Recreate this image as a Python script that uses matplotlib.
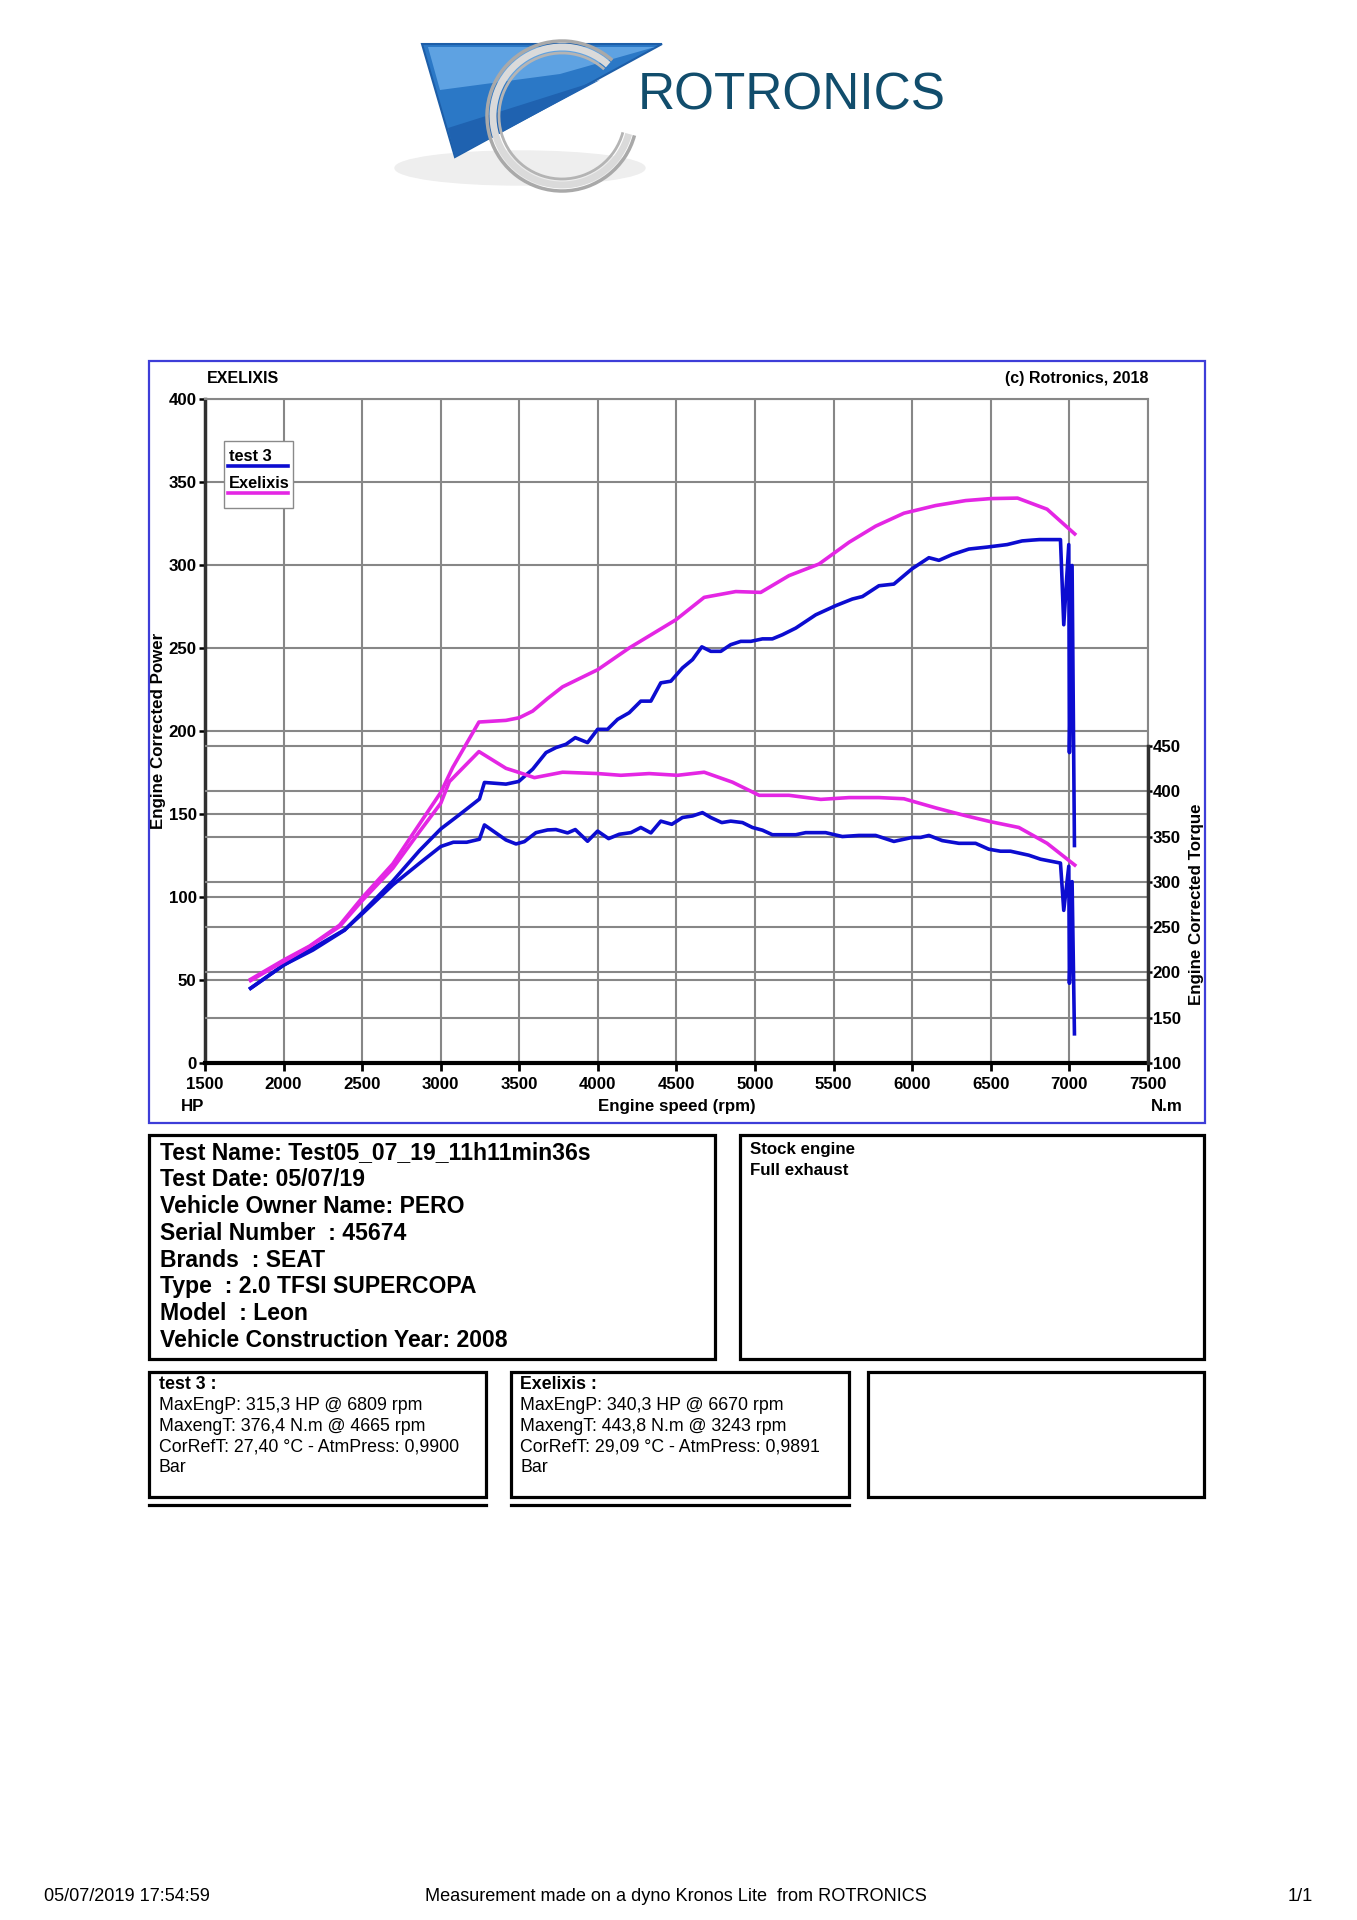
import matplotlib
matplotlib.use("Agg")
import matplotlib.pyplot as plt
from matplotlib.patches import Rectangle, Polygon, Arc, Ellipse

plt.rcParams['font.family'] = ['Liberation Sans', 'DejaVu Sans']
plt.rcParams['font.weight'] = 'bold'

# axis ticks
rpm_ticks = list(range(1500, 8000, 500))
hp_ticks = list(range(0, 401, 50))
nm_ticks = list(range(100, 451, 50))

# test 3 (blue) - power in HP, torque in N.m
t3_rpm_hp = [1790, 2000, 2186, 2388, 2504, 2695, 2865, 3000, 3119, 3246,
             3278, 3415, 3496, 3585, 3670, 3733, 3797, 3856, 3934, 3998,
             4061, 4125, 4199, 4273, 4337, 4400, 4464, 4538, 4602, 4661,
             4718, 4782, 4845, 4909, 4973, 5047, 5110, 5174, 5259, 5386,
             5513, 5619, 5683, 5788, 5883, 6000, 6106, 6170, 6254, 6360,
             6477, 6604, 6699, 6763, 6809, 6943, 6964, 6996, 7000, 7017, 7032]
t3_hp = [45, 59, 68, 80, 91, 109.6, 128, 141, 149.6, 159,
         169, 168, 169.6, 177, 187, 190, 192, 196, 193, 201,
         201, 207, 211, 218, 218, 229, 230, 238, 243, 250.7,
         248, 248, 252, 254, 254, 255.5, 255.5, 258, 262, 270,
         275.5, 279.5, 281, 287.5, 288.5, 297.8, 304.4, 302.8, 306.3, 309.6,
         310.8, 312.3, 314.5, 315.0, 315.3, 315.3, 264, 312.3, 187, 299.7, 131]

t3_rpm_nm = [1790, 2000, 2186, 2388, 2504, 2695, 2865, 3000, 3080, 3165, 3246,
             3278, 3415, 3479, 3532, 3606, 3680, 3733, 3807, 3856,
             3934, 3998, 4068, 4136, 4210, 4273, 4337, 4400, 4470, 4538,
             4602, 4665, 4718, 4788, 4845, 4920, 4983, 5047, 5110, 5259,
             5322, 5449, 5555, 5661, 5767, 5883, 6000, 6053, 6106, 6191,
             6297, 6403, 6487, 6561, 6625, 6741, 6816, 6943, 6964, 6996,
             7000, 7017, 7032]
t3_nm = [182.5, 208, 226.7, 247, 265.3, 296.6, 320.5, 339, 343.7, 343.7, 347,
         362.8, 346.2, 341.8, 344.4, 354.3, 357.3, 357.7, 354, 357.7,
         344.8, 356, 347.7, 352.5, 354.3, 360, 354, 367, 363.5, 371,
         372.7, 376.4, 371, 365.4, 367, 365.4, 360, 357, 352, 352,
         354.3, 354.3, 350, 351.2, 351.2, 344.6, 349, 349, 351.2, 345.5,
         342.5, 342.5, 336, 333.8, 333.8, 329.4, 325, 320.7, 268.5, 317.2,
         188, 300.2, 132.2]

# Exelixis (magenta)
ex_rpm_hp = [1790, 2000, 2165, 2356, 2504, 2695, 2865, 3000, 3076, 3243,
             3415, 3500, 3585, 3680, 3775, 4000, 4199, 4496, 4676, 4877,
             5036, 5216, 5407, 5598, 5767, 5947, 6148, 6339, 6498, 6670,
             6858, 7034]
ex_hp = [50.4, 62, 70.4, 83, 100, 120, 144, 163, 178, 205.4,
         206.4, 208, 212, 219.6, 226.6, 237, 250, 267, 280.5, 284,
         283.5, 293.6, 300.6, 313.7, 323.4, 331.2, 335.8, 338.8, 340, 340.3,
         333.6, 318.7]

ex_rpm_nm = [1790, 2000, 2165, 2356, 2504, 2695, 2865, 3000, 3055, 3243,
             3415, 3500, 3596, 3775, 4000, 4146, 4326, 4506, 4676, 4856,
             5026, 5216, 5418, 5598, 5788, 5947, 6148, 6339, 6498, 6678,
             6858, 7034]
ex_nm = [191, 212, 228.5, 250.6, 280, 315, 355.4, 386.7, 410.6, 443.8,
         425.3, 420.6, 415, 421, 419.5, 417.6, 419.5, 417.6, 421, 410,
         395.5, 395.5, 391, 393, 393, 391.7, 381.7, 373, 366.4, 360,
         342.5, 318.5]

info_lines = ["Test Name: Test05_07_19_11h11min36s", "Test Date: 05/07/19",
              "Vehicle Owner Name: PERO", "Serial Number  : 45674",
              "Brands  : SEAT", "Type  : 2.0 TFSI SUPERCOPA", "Model  : Leon",
              "Vehicle Construction Year: 2008"]
notes_lines = ["Stock engine", "Full exhaust"]
t3_lines = ["MaxEngP: 315,3 HP @ 6809 rpm", "MaxengT: 376,4 N.m @ 4665 rpm",
            "CorRefT: 27,40 \u00b0C - AtmPress: 0,9900", "Bar"]
ex_lines = ["MaxEngP: 340,3 HP @ 6670 rpm", "MaxengT: 443,8 N.m @ 3243 rpm",
            "CorRefT: 29,09 \u00b0C - AtmPress: 0,9891", "Bar"]

BLUE = '#0c0cd0'
MAG = '#e426e4'
GRID = '#878787'

W, H = 1357, 1920
fig = plt.figure(figsize=(W / 100, H / 100), dpi=100)


def frac(x0, y0, x1, y1):
    return [x0 / W, 1 - y1 / H, (x1 - x0) / W, (y1 - y0) / H]


# main chart
ax = fig.add_axes(frac(205, 399, 1148, 1063))
ax.set_xlim(1500, 7500)
ax.set_ylim(0, 400)
ax.set_xticks(rpm_ticks)
ax.set_yticks(hp_ticks)
ax.grid(True, color=GRID, lw=1.5)
ax.set_axisbelow(True)
ax.tick_params(axis='x', direction='out', length=6, width=2, pad=4, labelsize=12.2)
ax.tick_params(axis='y', direction='out', length=4, width=1.8, pad=2, labelsize=12.2)
ax.spines['left'].set_linewidth(2.5)
ax.spines['left'].set_color('#303030')
ax.spines['bottom'].set_linewidth(3)
ax.spines['top'].set_color(GRID)
ax.spines['top'].set_linewidth(1.5)
ax.spines['right'].set_color(GRID)
ax.spines['right'].set_linewidth(1.5)

ax2 = ax.twinx()
ax2.set_ylim(100, 833)
ax2.set_yticks(nm_ticks)
for s in ['top', 'left', 'bottom']:
    ax2.spines[s].set_visible(False)
ax2.spines['right'].set_bounds(100, 450)
ax2.spines['right'].set_linewidth(2.5)
ax2.spines['right'].set_color('#303030')
ax2.tick_params(axis='y', direction='out', length=3, width=1.8, pad=0.5, labelsize=12.2)
for t in nm_ticks[1:]:
    ax2.axhline(t, color=GRID, lw=1.5, zorder=0)

# curves (power ones use the HP axis scale)
ax2.plot(t3_rpm_nm, t3_nm, color=BLUE, lw=2.6, zorder=3)
ax2.plot(t3_rpm_hp, t3_hp, color=BLUE, lw=2.6, zorder=3, transform=ax.transData)
ax2.plot(ex_rpm_nm, ex_nm, color=MAG, lw=2.6, zorder=4)
ax2.plot(ex_rpm_hp, ex_hp, color=MAG, lw=2.6, zorder=4, transform=ax.transData)
ax2.set_xlim(1500, 7500)
ax2.set_ylim(100, 833)

# overlay in pixel coordinates
ov = fig.add_axes([0, 0, 1, 1])
ov.set_xlim(0, W)
ov.set_ylim(H, 0)
ov.axis('off')

# logo
ov.add_patch(Ellipse((520, 168), 250, 34, color='#eeeeee', zorder=1))
ov.add_patch(Polygon([(422, 44), (662, 44), (455, 157)], closed=True,
                     facecolor='#2b78c6', edgecolor='#1d5ea8', lw=1.5, zorder=2))
ov.add_patch(Polygon([(428, 47), (655, 47), (560, 74), (440, 90)], closed=True,
                     facecolor='#5ea2e2', edgecolor='none', zorder=2))
ov.add_patch(Polygon([(448, 128), (600, 80), (455, 157)], closed=True,
                     facecolor='#1f62b0', edgecolor='none', zorder=2))
ov.add_patch(Arc((562, 116), 150, 150, theta1=15, theta2=312, color='#a9a9a9', lw=2.5, zorder=3))
ov.add_patch(Arc((562, 116), 138, 138, theta1=15, theta2=312, color='#dadada', lw=5, zorder=3))
ov.add_patch(Arc((562, 116), 126, 126, theta1=15, theta2=312, color='#b4b4b4', lw=2, zorder=3))
ov.text(638, 110, "ROTRONICS", fontsize=37, fontweight='normal', color='#114d6c',
        ha='left', va='baseline')

# chart frame and headers
ov.add_patch(Rectangle((149, 361), 1056, 762, fill=False, ec='#3d3dd8', lw=1.6))
ov.text(207, 383, "EXELIXIS", fontsize=11.5, ha='left', va='baseline')
ov.text(1148, 383, "(c) Rotronics, 2018", fontsize=11.5, ha='right', va='baseline')
ov.text(158, 731, "Engine Corrected Power", fontsize=12.2, rotation=90, ha='center', va='center')
ov.text(1196, 904, "Engine Corrected Torque", fontsize=12.2, rotation=90, ha='center', va='center')
ov.text(181, 1111, "HP", fontsize=12.2, ha='left', va='baseline')
ov.text(1151, 1111, "N.m", fontsize=12.2, ha='left', va='baseline')
ov.text(677, 1111, "Engine speed (rpm)", fontsize=12.2, ha='center', va='baseline')

# legend
ov.add_patch(Rectangle((224, 441), 69, 67, facecolor='white', ec='#8a8a8a', lw=1, zorder=5))
ov.text(229, 461, "test 3", fontsize=11.8, ha='left', va='baseline', zorder=6)
ov.plot([228, 288], [465.5, 465.5], color=BLUE, lw=2.6, zorder=6)
ov.text(229, 488, "Exelixis", fontsize=11.8, ha='left', va='baseline', zorder=6)
ov.plot([228, 288], [492.5, 492.5], color=MAG, lw=2.6, zorder=6)

# info boxes
for (x0, y0, x1, y1) in [(149, 1135, 715, 1359), (740, 1135, 1204, 1359),
                         (149, 1372, 486, 1497), (511, 1372, 849, 1497),
                         (868, 1372, 1204, 1497)]:
    ov.add_patch(Rectangle((x0, y0), x1 - x0, y1 - y0, fill=False, ec='black', lw=2.3))
ov.plot([149, 486], [1505, 1505], color='black', lw=2.3)
ov.plot([511, 849], [1505, 1505], color='black', lw=2.3)

for i, line in enumerate(info_lines):
    ov.text(160, 1159 + i * 26.9, line, fontsize=16.6, ha='left', va='baseline')
for i, line in enumerate(notes_lines):
    ov.text(750, 1154 + i * 21, line, fontsize=12.2, ha='left', va='baseline')

ov.text(159, 1389, "test 3 :", fontsize=12.8, ha='left', va='baseline')
ov.text(520, 1389, "Exelixis :", fontsize=12.8, ha='left', va='baseline')
for i, line in enumerate(t3_lines):
    ov.text(159, 1410 + i * 20.8, line, fontsize=12.8, fontweight='normal', ha='left', va='baseline')
for i, line in enumerate(ex_lines):
    ov.text(520, 1410 + i * 20.8, line, fontsize=12.8, fontweight='normal', ha='left', va='baseline')

# footer
ov.text(44, 1901, "05/07/2019 17:54:59", fontsize=13.1, fontweight='normal', ha='left', va='baseline')
ov.text(425, 1901, "Measurement made on a dyno Kronos Lite  from ROTRONICS", fontsize=13.1,
        fontweight='normal', ha='left', va='baseline')
ov.text(1313, 1901, "1/1", fontsize=13.1, fontweight='normal', ha='right', va='baseline')

fig.savefig('out.png', dpi=100, facecolor='white')
